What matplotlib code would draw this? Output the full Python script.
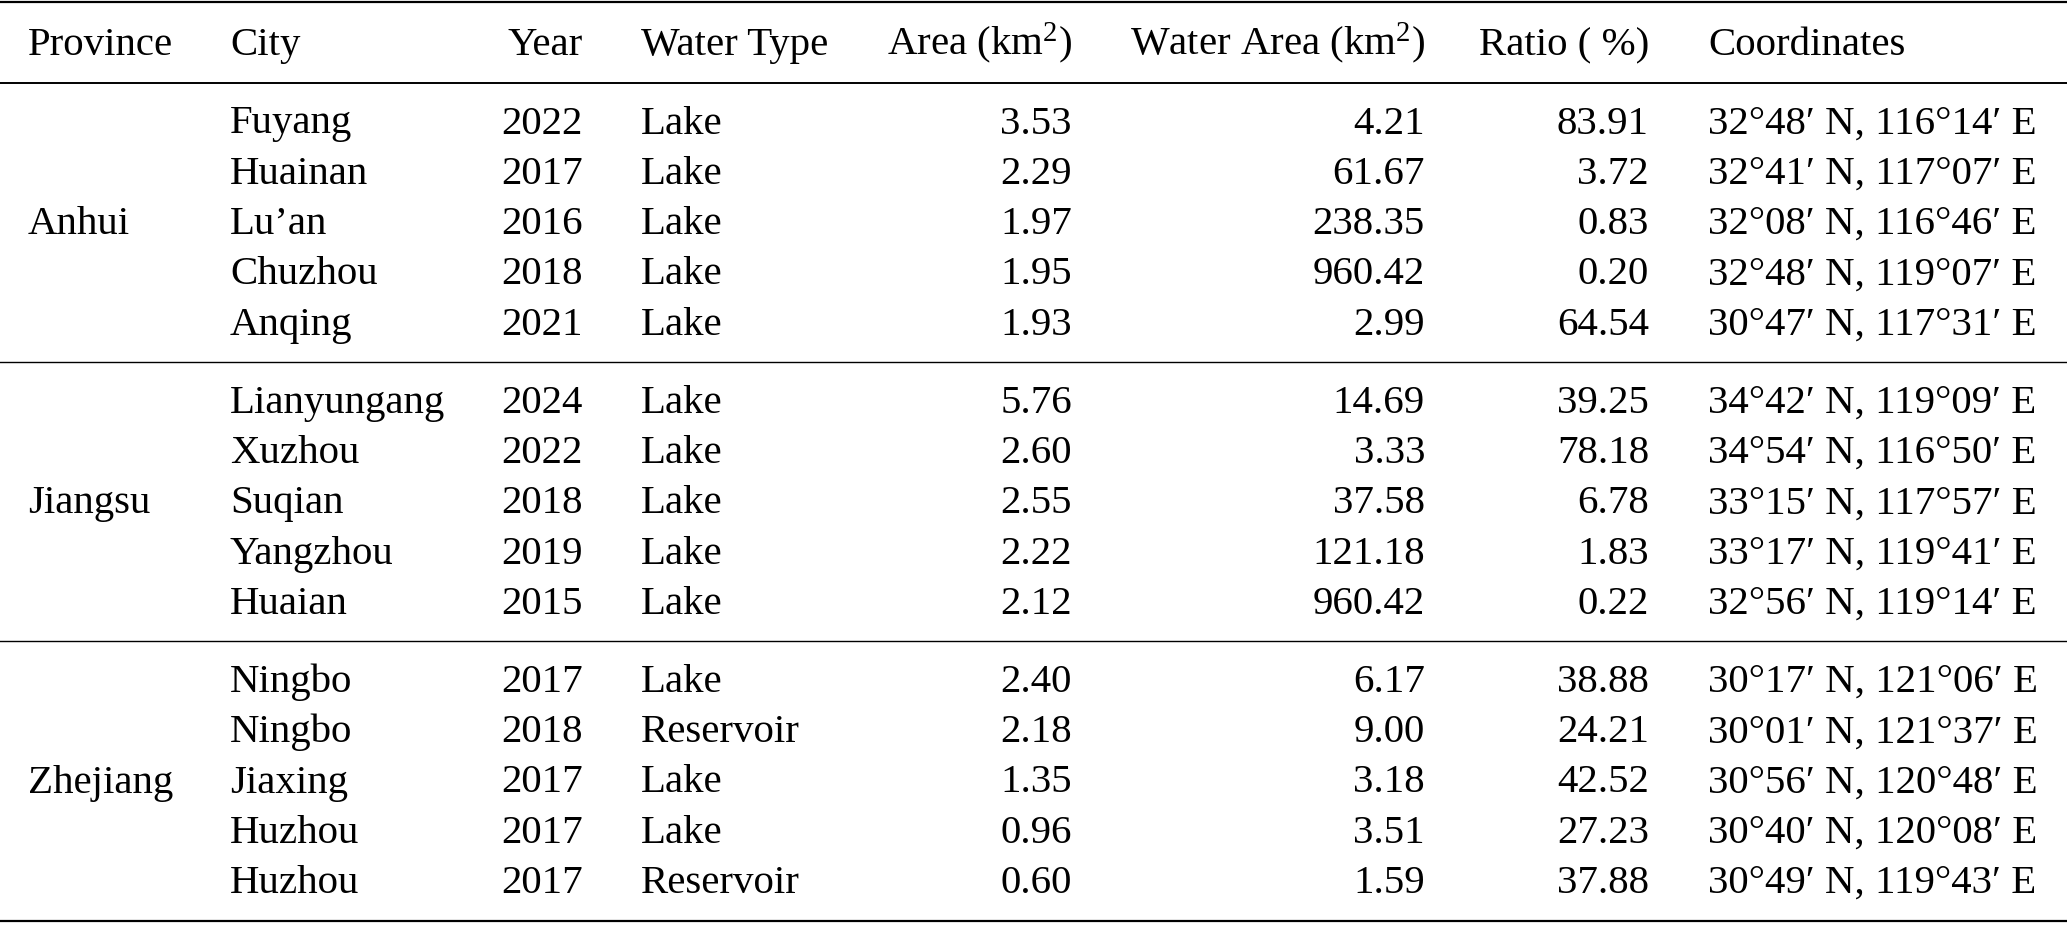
import matplotlib
matplotlib.use('Agg')
import matplotlib.pyplot as plt

# Table data
provinces = ['Anhui', 'Jiangsu', 'Zhejiang']
group_sizes = [5, 5, 5]
cities = ['Fuyang', 'Huainan', 'Lu’an', 'Chuzhou', 'Anqing',
          'Lianyungang', 'Xuzhou', 'Suqian', 'Yangzhou', 'Huaian',
          'Ningbo', 'Ningbo', 'Jiaxing', 'Huzhou', 'Huzhou']
years = [2022, 2017, 2016, 2018, 2021,
         2024, 2022, 2018, 2019, 2015,
         2017, 2018, 2017, 2017, 2017]
water_types = ['Lake', 'Lake', 'Lake', 'Lake', 'Lake',
               'Lake', 'Lake', 'Lake', 'Lake', 'Lake',
               'Lake', 'Reservoir', 'Lake', 'Lake', 'Reservoir']
areas = [3.53, 2.29, 1.97, 1.95, 1.93,
         5.76, 2.60, 2.55, 2.22, 2.12,
         2.40, 2.18, 1.35, 0.96, 0.60]
water_areas = [4.21, 61.67, 238.35, 960.42, 2.99,
               14.69, 3.33, 37.58, 121.18, 960.42,
               6.17, 9.00, 3.18, 3.51, 1.59]
ratios = [83.91, 3.72, 0.83, 0.20, 64.54,
          39.25, 78.18, 6.78, 1.83, 0.22,
          38.88, 24.21, 42.52, 27.23, 37.88]
lats = ['32°48′', '32°41′', '32°08′', '32°48′', '30°47′',
        '34°42′', '34°54′', '33°15′', '33°17′', '32°56′',
        '30°17′', '30°01′', '30°56′', '30°40′', '30°49′']
lons = ['116°14′', '117°07′', '116°46′', '119°07′', '117°31′',
        '119°09′', '116°50′', '117°57′', '119°41′', '119°14′',
        '121°06′', '121°37′', '120°48′', '120°08′', '119°43′']
headers = ['Province', 'City', 'Year', 'Water Type', r'Area (km$\mathregular{^2}$)',
           r'Water Area (km$\mathregular{^2}$)', 'Ratio ( %)', 'Coordinates']

plt.rcParams['font.family'] = ['Liberation Serif', 'DejaVu Serif']
plt.rcParams['mathtext.fontset'] = 'custom'
plt.rcParams['mathtext.rm'] = 'Liberation Serif'
plt.rcParams['mathtext.it'] = 'Liberation Serif:italic'
plt.rcParams['mathtext.bf'] = 'Liberation Serif:bold'

W, H = 2067, 925
fig = plt.figure(figsize=(W / 100, H / 100), dpi=100)
ax = fig.add_axes([0, 0, 1, 1])
ax.set_xlim(0, W)
ax.set_ylim(H, 0)
ax.axis('off')

FS = 29.4
BASE = 12.5  # baseline offset below the row centre (px)

# column x positions and alignment
col_x = [28, 230, 583, 641, 1072, 1425, 1649, 1708]
col_ha = ['left', 'left', 'right', 'left', 'right', 'right', 'right', 'left']

# rules
ax.axhline(2, color='black', lw=1.6)
ax.axhline(83, color='black', lw=1.4)

# header
for x, ha, h in zip(col_x, col_ha, headers):
    ax.text(x, 55, h, ha=ha, va='baseline', fontsize=FS)

pitch = 50.3
y_rule = 83
i = 0
for g, (prov, n) in enumerate(zip(provinces, group_sizes)):
    ys = [y_rule + 38 + k * pitch for k in range(n)]
    ax.text(col_x[0], (ys[0] + ys[-1]) / 2 + BASE, prov, ha='left', va='baseline', fontsize=FS)
    for y in ys:
        vals = [cities[i], str(years[i]), water_types[i], f'{areas[i]:.2f}',
                f'{water_areas[i]:.2f}', f'{ratios[i]:.2f}',
                f'{lats[i]} N, {lons[i]} E']
        for x, ha, v in zip(col_x[1:], col_ha[1:], vals):
            ax.text(x, y + BASE, v, ha=ha, va='baseline', fontsize=FS)
        i += 1
    y_rule = ys[-1] + 40
    if g < len(provinces) - 1:
        ax.axhline(y_rule, color='black', lw=1.0)
    else:
        ax.axhline(y_rule, color='black', lw=1.6)

fig.savefig('out.png', dpi=100, facecolor='white')
